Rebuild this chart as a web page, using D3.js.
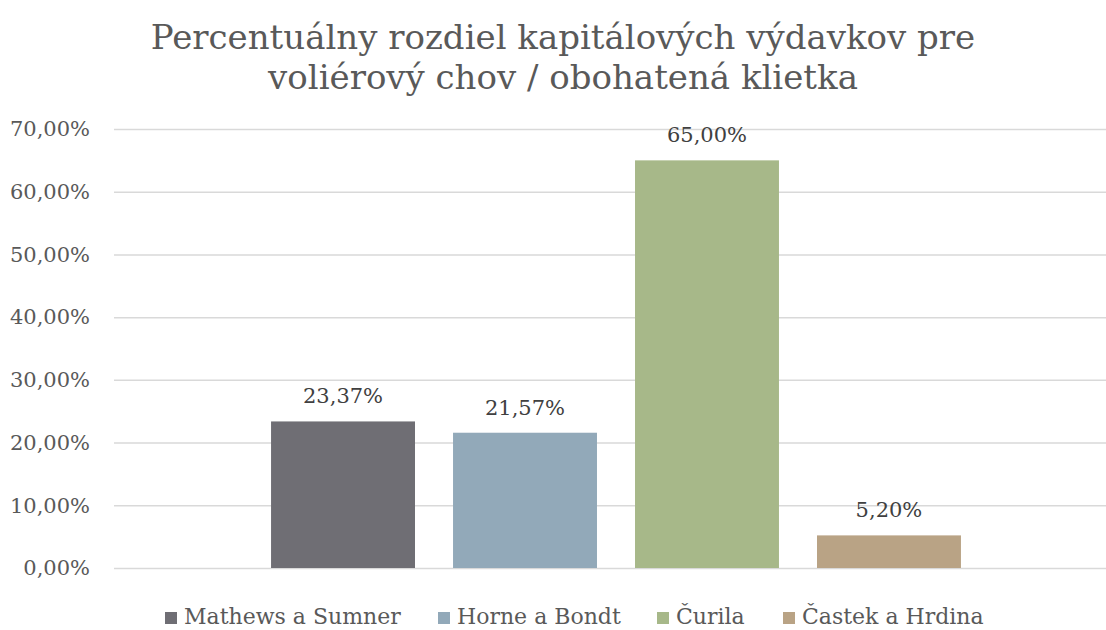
<!DOCTYPE html>
<html>
<head>
<meta charset="utf-8">
<script src="https://cdn.jsdelivr.net/npm/d3@7"></script>
<style>
  body { margin: 0; background: #fff; }
  svg text { font-family: "DejaVu Serif", serif; }
</style>
</head>
<body>
<svg id="chart" width="1106" height="630"></svg>
<script>
// data
var series = ["Mathews a Sumner", "Horne a Bondt", "Čurila", "Častek a Hrdina"];
var values = [23.37, 21.57, 65.00, 5.20];
var colors = ["#6f6e74", "#92a9b9", "#a7b889", "#b9a385"];
var yTicks = [0, 10, 20, 30, 40, 50, 60, 70];
var titleLines = ["Percentuálny rozdiel kapitálových výdavkov pre", "voliérový chov / obohatená klietka"];

var svg = d3.select("#chart");
var plotLeft = 114, plotRight = 1118, plotTop = 129, plotBottom = 568;

var fmt = function(v) { return d3.format(".2f")(v).replace(".", ",") + "%"; };

var ys = d3.scaleLinear().domain([0, 70]).range([plotBottom, plotTop]);
var xs = d3.scaleBand().domain(series)
    .range([plotLeft, plotRight])
    .paddingInner(0.209)
    .paddingOuter(0.863);

// title
svg.append("g").selectAll("text")
    .data(titleLines)
    .enter()
    .append("text")
        .attr("x", 563)
        .attr("y", function(d, i) { return 49 + i * 40; })
        .attr("text-anchor", "middle")
        .style("font-size", "34px")
        .style("fill", "#595959")
        .text(function(d) { return d; });

// grid + y labels
var yAxis = d3.axisLeft(ys)
    .tickValues(yTicks)
    .tickSize(-(plotRight - plotLeft))
    .tickPadding(24)
    .tickFormat(fmt);

var ga = svg.append("g")
    .attr("transform", "translate(" + plotLeft + ",0)")
    .call(yAxis);
ga.select(".domain").remove();
ga.selectAll(".tick line").attr("stroke", "#d9d9d9").attr("stroke-width", 1.5);
ga.selectAll(".tick text")
    .attr("dy", "0.32em")
    .style("font-size", "21px")
    .style("font-family", "DejaVu Serif, serif")
    .style("fill", "#595959");

// bars
svg.append("g").selectAll("rect")
    .data(values)
    .enter()
    .append("rect")
        .attr("x", function(d, i) { return xs(series[i]); })
        .attr("y", function(d) { return ys(d); })
        .attr("width", xs.bandwidth())
        .attr("height", function(d) { return ys(0) - ys(d); })
        .attr("fill", function(d, i) { return colors[i]; });

// value labels
svg.append("g").selectAll("text")
    .data(values)
    .enter()
    .append("text")
        .attr("x", function(d, i) { return xs(series[i]) + xs.bandwidth() / 2; })
        .attr("y", function(d) { return ys(d) - 18; })
        .attr("text-anchor", "middle")
        .style("font-size", "21px")
        .style("fill", "#404040")
        .text(fmt);

// legend
var legendX = [165, 438, 657, 783];
var lg = svg.append("g").selectAll("g")
    .data(series)
    .enter()
    .append("g")
        .attr("transform", function(d, i) { return "translate(" + legendX[i] + ",612)"; });
lg.append("rect")
    .attr("width", 12).attr("height", 12)
    .attr("fill", function(d, i) { return colors[i]; });
lg.append("text")
    .attr("x", 19)
    .attr("y", 12)
    .style("font-size", "22px")
    .style("fill", "#595959")
    .text(function(d) { return d; });
</script>
</body>
</html>
